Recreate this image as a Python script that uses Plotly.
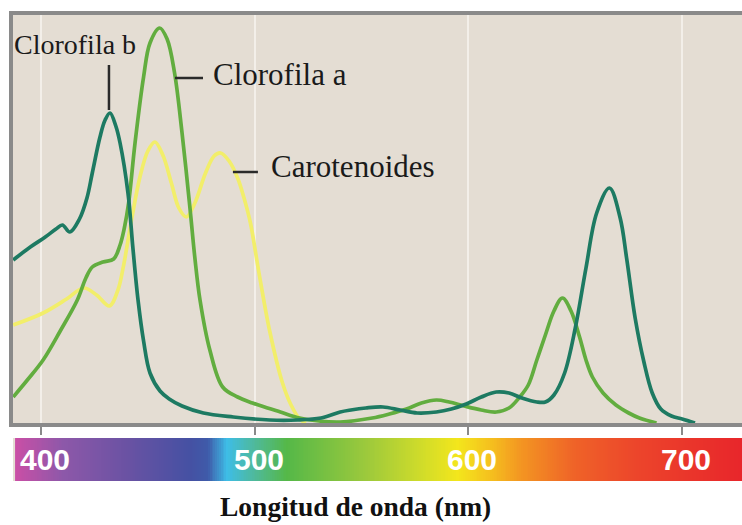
import numpy as np
import plotly.graph_objects as go

# ---------------- data ----------------
# Clorofila b (dark teal)
wl_clb = [387, 395, 402, 407, 410, 413.5, 418, 421.5, 424, 427.6, 430, 432.3, 435, 437,
          440.7, 443, 445.4, 448, 451, 455.7, 460, 466, 476, 490, 507, 520, 531, 540,
          545, 552, 560, 568, 576, 585, 592, 599, 606, 613, 619, 625, 632, 636, 640,
          645, 650, 655, 660, 666, 671, 674, 678, 682, 686, 690, 695, 700, 706]
ab_clb = [163, 176, 186, 194, 198, 191, 204, 225, 250, 286, 303, 310, 297, 280,
          230, 175, 123, 82, 50, 32, 24, 17, 10, 6, 3, 3, 5, 11,
          13, 15, 16, 13, 10, 11, 14, 19, 26, 31, 30, 25, 21, 21, 28,
          50, 95, 155, 210, 235, 205, 165, 105, 62, 30, 14, 7, 4, 0]

# Clorofila a (green)
wl_cla = [387, 394, 401, 409, 417, 421, 424, 429, 434, 437, 439, 441, 444, 448, 451,
          455.5, 459, 462.5, 466, 469.7, 472, 474.4, 479, 485, 492, 499, 506, 512,
          521, 530, 540, 555, 563, 571, 578, 585, 591, 598, 606, 613, 619, 624, 628,
          632, 636, 640, 644, 648, 652, 655, 658, 663, 669, 675, 680, 688]
ab_cla = [26, 44, 63, 92, 123, 145, 156, 161, 164, 178, 195, 220, 280, 346, 380,
          395, 384, 350, 290, 215, 165, 123, 73, 36, 26, 20, 15, 11,
          5, 2, 1, 5, 9, 14, 20, 23, 21, 17, 13, 11, 15, 26, 38,
          63, 88, 112, 125, 112, 86, 63, 46, 30, 18, 10, 5, 0]

# Carotenoides (yellow)
wl_car = [387, 401, 412, 420, 426, 432, 436, 438.5, 442.6, 446.3, 450, 453.3, 457,
          461, 464.5, 468, 472, 477, 481, 484, 488, 492, 495, 498, 502, 507, 513,
          517, 521, 524]
ab_car = [98, 110, 124, 135, 128, 117, 133, 156, 206, 246, 272, 281, 268,
          240, 215, 206, 220, 250, 267, 270, 262, 245, 225, 200, 150, 92, 40,
          18, 4, 0]

# visible-spectrum colour bar: wavelength stops and colours
spec_wl = [388.3, 410, 440, 470, 478, 487, 500, 515, 552, 578, 595, 610, 625, 650, 680, 728]
spec_col = ["#c94fa6", "#8e58a9", "#6a52a3", "#4551a3", "#3f5aa9", "#3ebde6", "#4fb99a",
            "#55b848", "#9cc93c", "#d0dc2a", "#f3e61c", "#f5c11e", "#f39422", "#ef6228",
            "#ec442b", "#e8262b"]

tick_vals = [400, 500, 600, 700]
tick_text = ["400", "500", "600", "700"]

series_names = ["Carotenoides", "Clorofila a", "Clorofila b"]
series_colors = ["#f2ee6a", "#62ad3f", "#1d7a62"]

x_title = "Longitud de onda (nm)"

# ---------------- figure ----------------
X_RANGE = [386.9, 728.0]
Y_RANGE = [0, 408]

fig = go.Figure()

for name, wl, ab, col in zip(series_names, [wl_car, wl_cla, wl_clb], [ab_car, ab_cla, ab_clb], series_colors):
    fig.add_trace(go.Scatter(x=wl, y=ab, mode="lines", name=name,
                             line=dict(color=col, width=3.7, shape="spline", smoothing=1.0),
                             hoverinfo="skip", showlegend=False, xaxis="x", yaxis="y"))

# spectrum bar as heatmap
zmin, zmax = spec_wl[0], spec_wl[-1]
cscale = [[(w - zmin) / (zmax - zmin), c] for w, c in zip(spec_wl, spec_col)]
bar_x = np.linspace(zmin, zmax, 400)
fig.add_trace(go.Heatmap(x=bar_x, y=[0], z=[bar_x], colorscale=cscale, zmin=zmin, zmax=zmax,
                         showscale=False, hoverinfo="skip", xaxis="x2", yaxis="y2"))

PLOT_BOTTOM_FRAC = 58 / 466
BAR_TOP_FRAC = 43 / 466

fig.update_layout(
    width=742, height=525,
    margin=dict(l=13, r=0, t=15, b=44),
    paper_bgcolor="white",
    plot_bgcolor="#e4ddd3",
    xaxis=dict(range=X_RANGE, domain=[0, 1], anchor="y",
               tickvals=tick_vals, showticklabels=False,
               ticks="outside", ticklen=8, tickwidth=2, tickcolor="#8a8a8a",
               showgrid=True, gridcolor="#f3efe9", gridwidth=2,
               showline=True, linecolor="#8a8a8a", linewidth=4, mirror=True,
               zeroline=False),
    yaxis=dict(range=Y_RANGE, domain=[PLOT_BOTTOM_FRAC, 1], anchor="x",
               showticklabels=False, showgrid=False, zeroline=False,
               showline=True, linecolor="#8a8a8a", linewidth=4, ticks=""),
    xaxis2=dict(range=X_RANGE, domain=[0, 1], anchor="y2", visible=False),
    yaxis2=dict(range=[-0.5, 0.5], domain=[0, BAR_TOP_FRAC], anchor="x2", visible=False),
)

# tick labels on the colour bar
for v, t in zip(tick_vals, tick_text):
    fig.add_annotation(x=v, y=0, xref="x2", yref="y2", text=t, showarrow=False,
                       xshift=4, xanchor="center", yanchor="middle",
                       font=dict(family="Liberation Sans", size=30, color="white", weight="bold"))

# series labels and leader lines
labels = [
    dict(text="Clorofila b", x=387.0, y=379, size=28),
    dict(text="Clorofila a", x=479.9, y=348.5, size=31),
    dict(text="Carotenoides", x=507.2, y=257, size=31),
]
for lb in labels:
    fig.add_annotation(x=lb["x"], y=lb["y"], xref="x", yref="y", text=lb["text"],
                       showarrow=False, xanchor="left", yanchor="middle", borderpad=0,
                       font=dict(family="Liberation Serif", size=lb["size"], color="#1a1a1a"))

leaders = [
    (431.8, 358, 431.8, 313),
    (462.7, 345, 475.8, 345),
    (489.8, 251, 501.5, 251),
]
for x0, y0, x1, y1 in leaders:
    fig.add_shape(type="line", x0=x0, y0=y0, x1=x1, y1=y1, xref="x", yref="y",
                  line=dict(color="#2a2a2a", width=2.5))

fig.add_annotation(x=(355 - 13) / 729, y=(481 - 506) / 466, xref="paper", yref="paper",
                   text=x_title, showarrow=False, xanchor="center", yanchor="middle",
                   font=dict(family="Liberation Serif", size=27.5, color="#111111", weight="bold"))

fig.write_html("out.html")
